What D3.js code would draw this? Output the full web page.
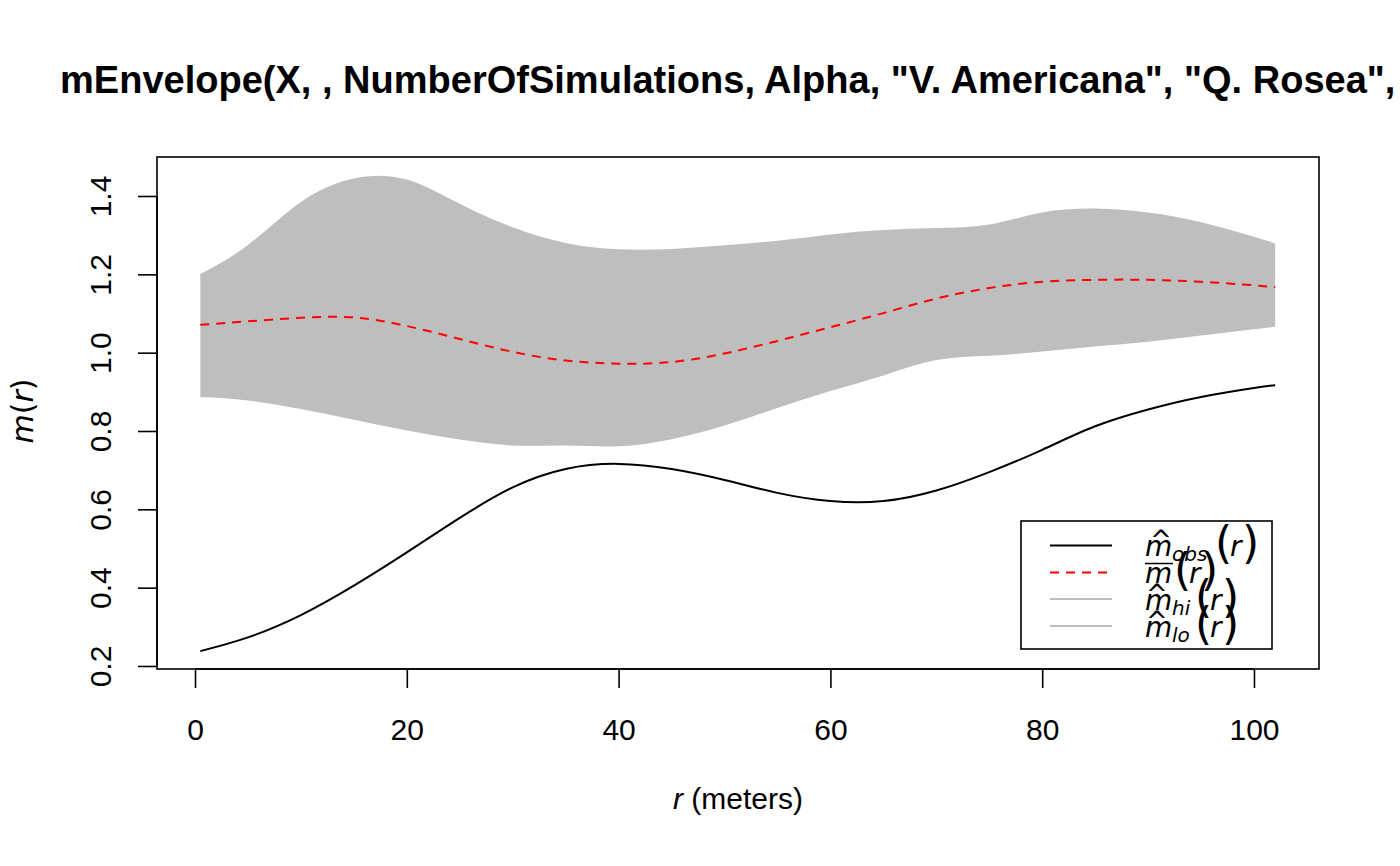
<!DOCTYPE html>
<html>
<head>
<meta charset="utf-8">
<script src="https://cdn.jsdelivr.net/npm/d3@7"></script>
<style>
  html, body { margin: 0; padding: 0; background: #ffffff; }
  svg { display: block; }
</style>
</head>
<body>
<svg id="chart" width="1400" height="866"></svg>
<script>
// ---- data ----
const rValues = [0.5, 5, 10, 15, 20, 25, 30, 35, 40, 45, 50, 55, 60, 65, 70, 75, 80, 85, 90, 95, 100, 102];
const mObs    = [0.238, 0.273, 0.330, 0.405, 0.490, 0.578, 0.656, 0.703, 0.716, 0.703, 0.675, 0.642, 0.621, 0.621, 0.648, 0.695, 0.752, 0.812, 0.855, 0.887, 0.910, 0.917];
const mMean   = [1.071, 1.080, 1.089, 1.090, 1.068, 1.035, 1.002, 0.980, 0.972, 0.976, 0.998, 1.030, 1.065, 1.101, 1.138, 1.165, 1.181, 1.186, 1.186, 1.181, 1.172, 1.167];
const mHi     = [1.201, 1.275, 1.385, 1.445, 1.442, 1.380, 1.320, 1.280, 1.264, 1.265, 1.274, 1.286, 1.302, 1.313, 1.318, 1.327, 1.358, 1.368, 1.358, 1.333, 1.296, 1.279];
const mLo     = [0.887, 0.878, 0.856, 0.829, 0.801, 0.778, 0.763, 0.763, 0.761, 0.779, 0.814, 0.859, 0.902, 0.942, 0.981, 0.992, 1.003, 1.016, 1.028, 1.044, 1.060, 1.066];
const xTicks  = [0, 20, 40, 60, 80, 100];
const yTicks  = [0.2, 0.4, 0.6, 0.8, 1.0, 1.2, 1.4];
const titleText = 'mEnvelope(X, , NumberOfSimulations, Alpha, "V. Americana", "Q. Rosea",';

// ---- layout ----
const svg = d3.select("#chart");
svg.append("rect").attr("width", 1400).attr("height", 866).attr("fill", "#ffffff");

const plot = { left: 157, right: 1319, top: 157, bottom: 669 };
const x = d3.scaleLinear().domain([-3.59, 106.14]).range([plot.left, plot.right]);
const y = d3.scaleLinear().domain([0.1923, 1.4996]).range([plot.bottom, plot.top]);

const AX = "'Liberation Sans', Arial, Helvetica, sans-serif";
const MATH = "'DejaVu Sans', sans-serif";

const rows = rValues.map((r, i) => ({ r, obs: mObs[i], mean: mMean[i], hi: mHi[i], lo: mLo[i] }));
const curve = d3.curveNatural;

// envelope
svg.append("path")
  .datum(rows)
  .attr("fill", "#bebebe")
  .attr("stroke", "none")
  .attr("d", d3.area().curve(curve).x(d => x(d.r)).y0(d => y(d.lo)).y1(d => y(d.hi)));

// mean (red dashed)
svg.append("path")
  .datum(rows)
  .attr("fill", "none")
  .attr("stroke", "#ff0000")
  .attr("stroke-width", 2)
  .attr("stroke-dasharray", "9,7")
  .attr("d", d3.line().curve(curve).x(d => x(d.r)).y(d => y(d.mean)));

// observed (black)
svg.append("path")
  .datum(rows)
  .attr("fill", "none")
  .attr("stroke", "#000000")
  .attr("stroke-width", 2)
  .attr("d", d3.line().curve(curve).x(d => x(d.r)).y(d => y(d.obs)));

// box
svg.append("rect")
  .attr("x", plot.left).attr("y", plot.top)
  .attr("width", plot.right - plot.left).attr("height", plot.bottom - plot.top)
  .attr("fill", "none").attr("stroke", "#000").attr("stroke-width", 1.6);

// x axis
const xAxis = d3.axisBottom(x).tickValues(xTicks).tickSize(19).tickPadding(30).tickFormat(d3.format("d"));
const gx = svg.append("g").attr("transform", `translate(0,${plot.bottom})`).call(xAxis);
gx.select(".domain").attr("d", `M${x(0)},0H${x(100)}`).attr("stroke", "#000").attr("stroke-width", 1.6);
gx.selectAll(".tick line").attr("stroke", "#000").attr("stroke-width", 1.6);
gx.selectAll(".tick text").attr("font-family", AX).attr("font-size", 30).attr("fill", "#000")
  .attr("dy", null).attr("y", 71);

// y axis
const yAxis = d3.axisLeft(y).tickValues(yTicks).tickSize(19).tickFormat(d3.format(".1f"));
const gy = svg.append("g").attr("transform", `translate(${plot.left},0)`).call(yAxis);
gy.select(".domain").attr("d", `M0,${y(0.2)}V${y(1.4)}`).attr("stroke", "#000").attr("stroke-width", 1.6);
gy.selectAll(".tick line").attr("stroke", "#000").attr("stroke-width", 1.6);
gy.selectAll(".tick text")
  .attr("font-family", AX).attr("font-size", 30).attr("fill", "#000")
  .attr("x", null).attr("dy", null)
  .attr("text-anchor", "middle")
  .attr("transform", "translate(-46,0) rotate(-90)");

// title
const title = svg.append("text")
  .attr("x", 60).attr("y", 93)
  .attr("font-family", AX).attr("font-weight", "bold").attr("font-size", 36)
  .attr("fill", "#000")
  .text(titleText);
const tl = title.node().getComputedTextLength();
if (tl > 0) title.attr("font-size", 36 * 1336 / tl);

// x label
const xl = svg.append("text")
  .attr("x", 738).attr("y", 809)
  .attr("text-anchor", "middle")
  .attr("font-family", AX).attr("font-size", 30).attr("fill", "#000");
xl.append("tspan").attr("font-style", "italic").text("r");
xl.append("tspan").text(" (meters)");

// y label
const yl = svg.append("text")
  .attr("transform", "translate(33,411) rotate(-90)")
  .attr("text-anchor", "middle")
  .attr("font-family", MATH).attr("font-size", 30).attr("fill", "#000");
yl.append("tspan").attr("font-style", "italic").text("m");
yl.append("tspan").text("(");
yl.append("tspan").attr("font-style", "italic").text("r");
yl.append("tspan").text(")");

// legend
const leg = svg.append("g");
leg.append("rect")
  .attr("x", 1021).attr("y", 521).attr("width", 251).attr("height", 128)
  .attr("fill", "#fff").attr("stroke", "#000").attr("stroke-width", 1.6);

const legendItems = [
  { color: "#000000", dash: null,  sub: "obs", accent: "hat" },
  { color: "#ff0000", dash: "9,7", sub: null,  accent: "bar" },
  { color: "#bebebe", dash: null,  sub: "hi",  accent: "hat" },
  { color: "#bebebe", dash: null,  sub: "lo",  accent: "hat" }
];
const legLineY = [545.5, 572.5, 599, 626];
const legBase  = [556, 583, 610, 637];
legendItems.forEach((it, i) => {
  leg.append("line")
    .attr("x1", 1050).attr("x2", 1112)
    .attr("y1", legLineY[i]).attr("y2", legLineY[i])
    .attr("stroke", it.color).attr("stroke-width", 2)
    .attr("stroke-dasharray", it.dash);
  const b = legBase[i];
  const mX = 1145;
  leg.append("text").attr("x", mX).attr("y", b)
    .attr("font-family", MATH).attr("font-size", 28).attr("font-style", "italic").attr("fill", "#000")
    .text("m");
  if (it.accent === "hat") {
    leg.append("text").attr("x", i === 0 ? 1161 : 1157).attr("y", b - 7).attr("text-anchor", "middle")
      .attr("font-family", MATH).attr("font-size", 26).attr("fill", "#000")
      .text("^");
  } else {
    leg.append("line").attr("x1", 1145).attr("x2", 1173).attr("y1", b - 19.5).attr("y2", b - 19.5)
      .attr("stroke", "#000").attr("stroke-width", 1.5);
  }
  let px;
  if (it.sub) {
    leg.append("text").attr("x", 1172).attr("y", b + 5)
      .attr("font-family", MATH).attr("font-size", 20).attr("font-style", "italic").attr("fill", "#000")
      .text(it.sub);
    px = it.sub === "obs" ? 1215 : 1195;
  } else {
    px = 1174;
  }
  leg.append("text").attr("x", px).attr("y", b + 2)
    .attr("font-family", MATH).attr("font-size", 44).attr("fill", "#000").text("(");
  leg.append("text").attr("x", px + 15).attr("y", b)
    .attr("font-family", MATH).attr("font-size", 28).attr("font-style", "italic").attr("fill", "#000").text("r");
  leg.append("text").attr("x", px + 27).attr("y", b + 2)
    .attr("font-family", MATH).attr("font-size", 44).attr("fill", "#000").text(")");
});
</script>
</body>
</html>
